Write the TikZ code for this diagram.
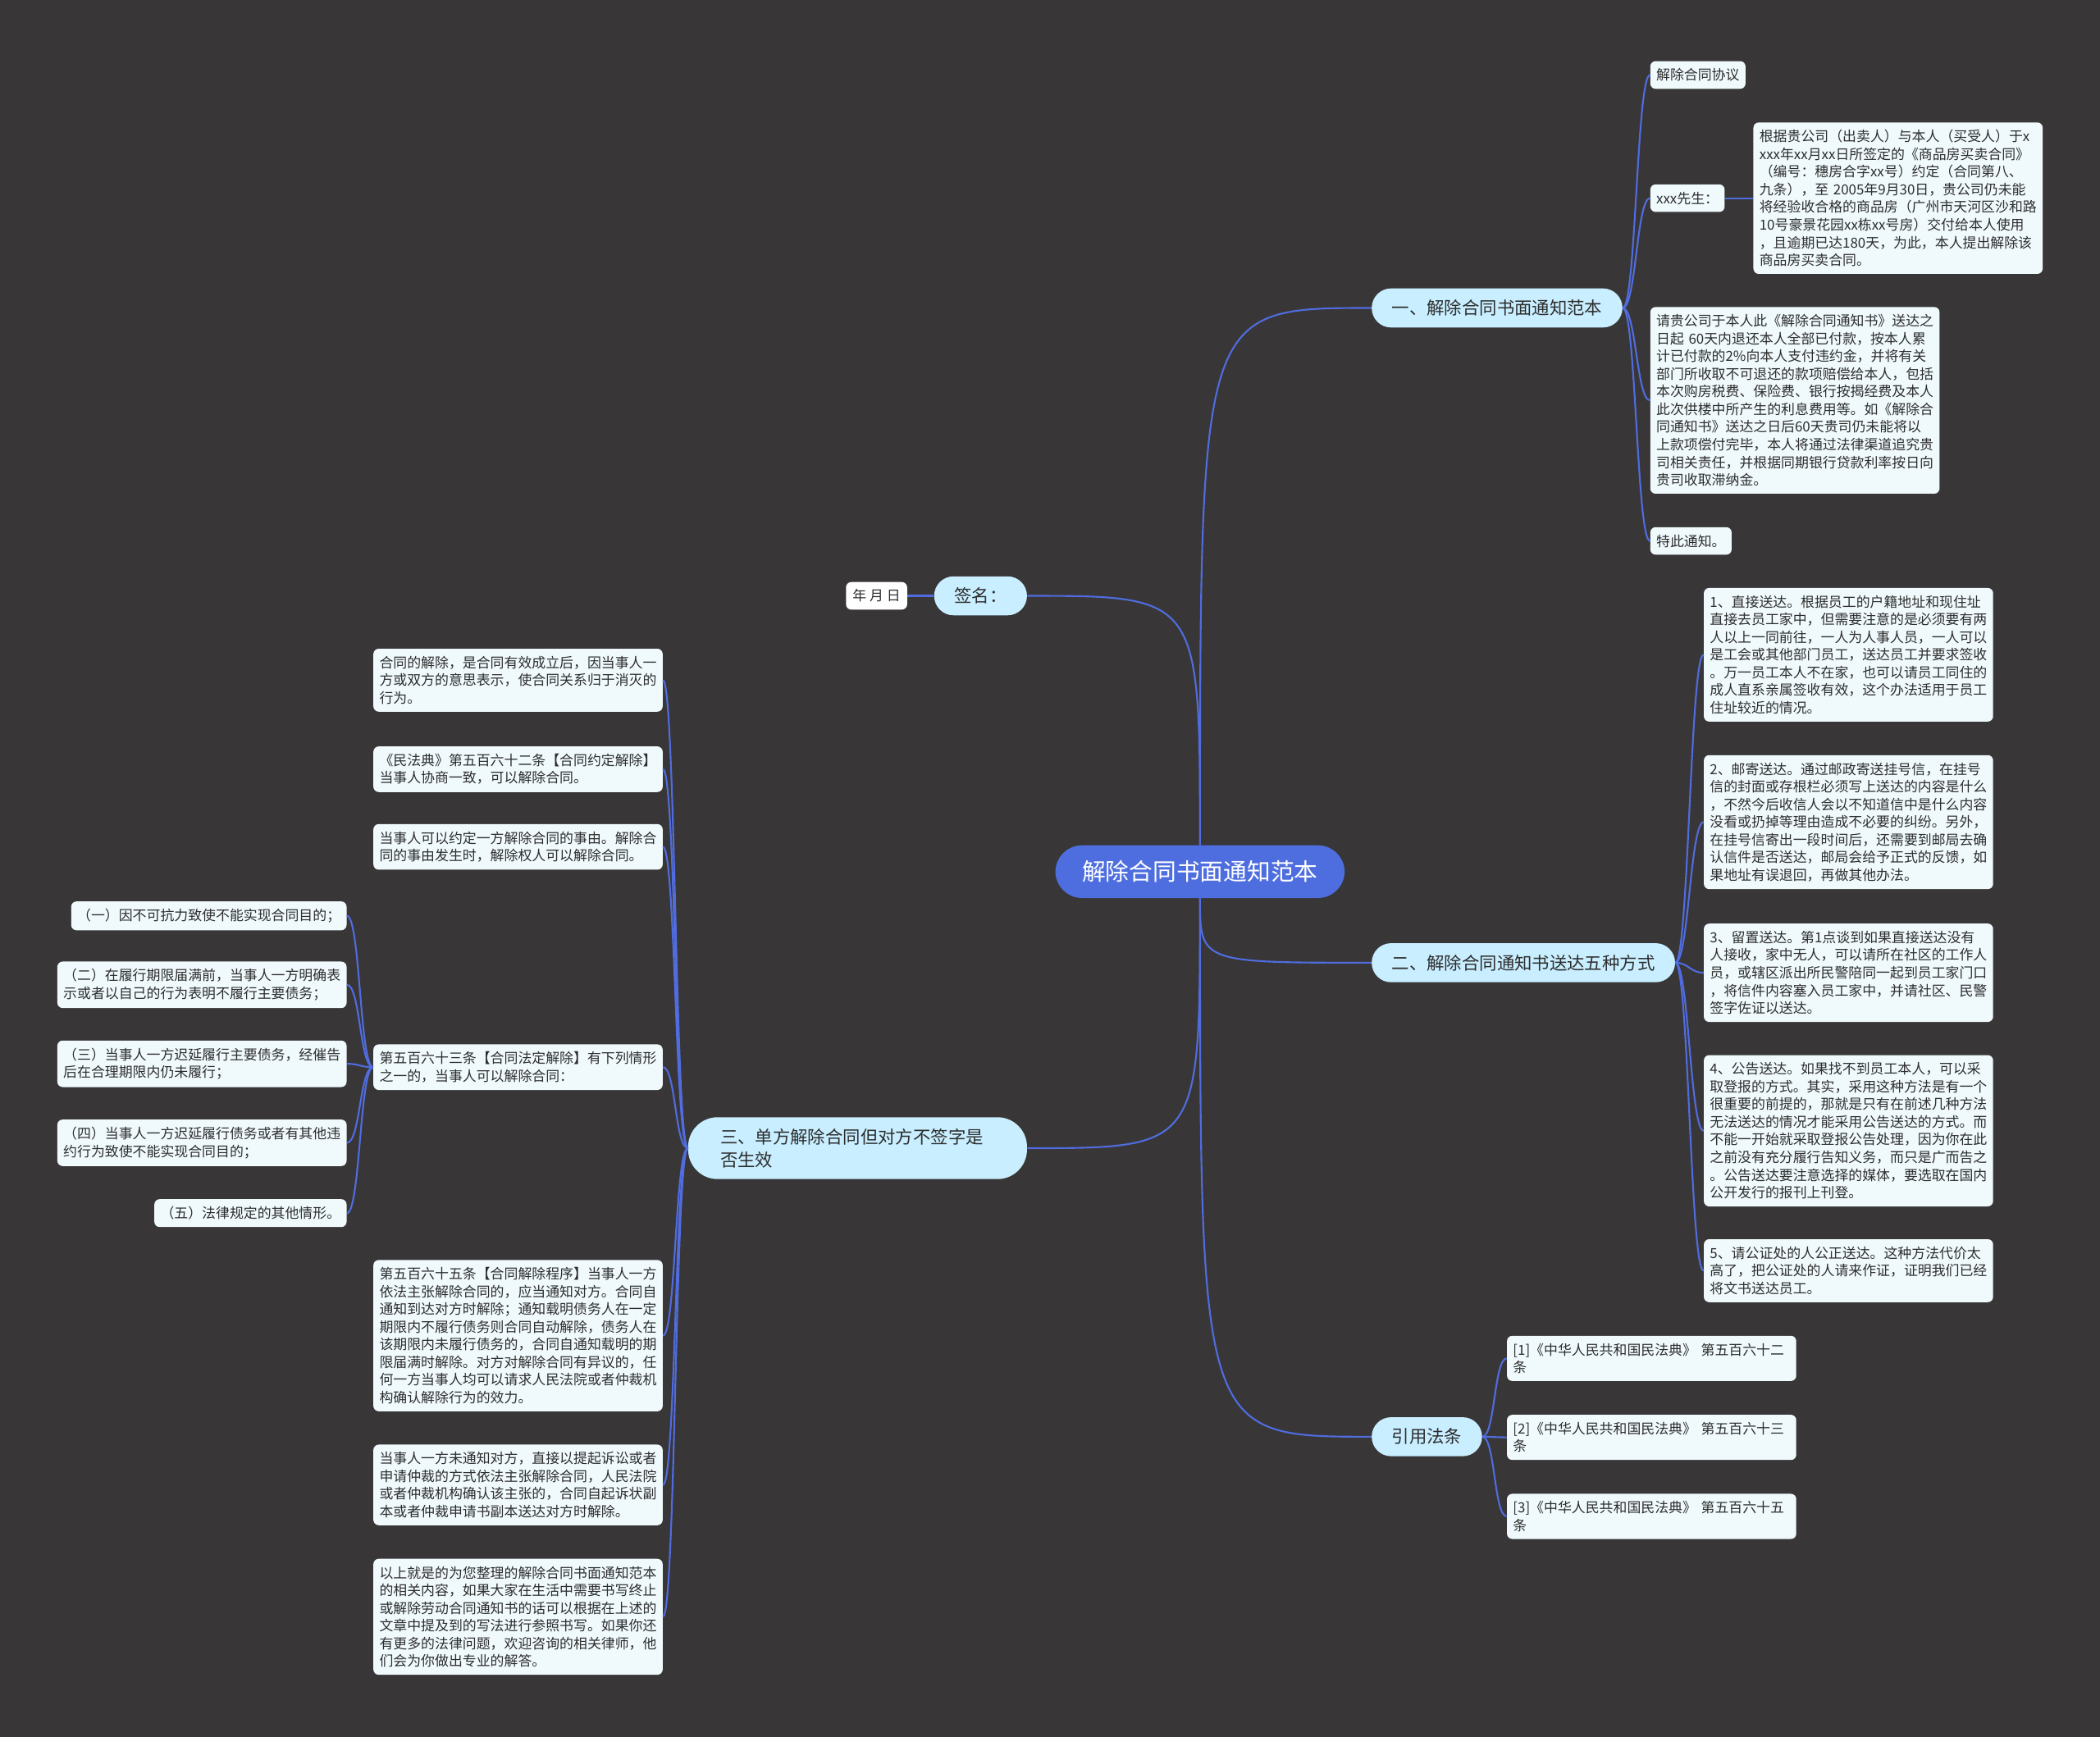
\documentclass[tikz,border=0pt]{standalone}
\usepackage{fontspec}
\setmainfont{Noto Sans CJK SC}
\definecolor{bgdark}{RGB}{56,54,55}
\definecolor{rootblue}{RGB}{78,110,224}
\definecolor{branchblue}{RGB}{200,238,255}
\definecolor{leafwhite}{RGB}{240,250,253}
\definecolor{inkgray}{RGB}{45,45,45}
\definecolor{linkblue}{RGB}{80,108,222}
\begin{document}
\begin{tikzpicture}[x=1pt,y=-1pt,
	link/.style={draw=linkblue,line width=1.3pt},
	spine/.style={to path={.. controls ([xshift=#1]\tikztostart) and ([xshift={-(#1)}]\tikztotarget) .. (\tikztotarget)}},
	rootbox/.style={fill=rootblue,text=white,rounded corners=20pt,inner xsep=20pt,inner ysep=11.5pt,font=\fontsize{17.6}{21}\selectfont},
	branch/.style={fill=branchblue,text=inkgray,rounded corners=14.5pt,inner xsep=15pt,inner ysep=8.5pt,font=\fontsize{13.1}{17}\selectfont,align=left},
	leaf/.style={fill=leafwhite,text=inkgray,rounded corners=4pt,inner xsep=4.5pt,inner ysep=5.5pt,font=\fontsize{10.35}{13.2}\selectfont,align=left},
	note/.style={leaf,text width=207pt}]
	\def\rx{1232}
	\def\sx{1272}
	\def\fx{1125}
	\def\lx{495}
	\def\kx{259}
	\fill[bgdark] (0,0) rectangle (1568,1297);
	\node[rootbox] (root) at (896,651) {解除合同书面通知范本};
	\node[branch,anchor=east] (sign) at (767,445) {签名：};
	\node[leaf,fill=white,inner xsep=5pt] (date) at (654.5,445) {年 月 日};
	\node[branch,anchor=west] (b1) at (1024,230) {一、解除合同书面通知范本};
	\node[branch,anchor=west] (b2) at (1024,719) {二、解除合同通知书送达五种方式};
	\node[branch,anchor=east,text width=205pt,inner xsep=24pt,rounded corners=22pt] (b3) at (767,857.5) {三、单方解除合同但对方不签字是\\否生效};
	\node[branch,anchor=west] (b4) at (1024,1073) {引用法条};
	\node[leaf,anchor=west] (agree) at (\rx,56) {解除合同协议};
	\node[leaf,anchor=west] (sir) at (\rx,148) {xxx先生：};
	\node[note,anchor=west] (fact) at (1309,148) {根据贵公司（出卖人）与本人（买受人）于x\\xxx年xx月xx日所签定的《商品房买卖合同》\\（编号：穗房合字xx号）约定（合同第八、\\九条），至 2005年9月30日，贵公司仍未能\\将经验收合格的商品房（广州市天河区沙和路\\10号豪景花园xx栋xx号房）交付给本人使用\\，且逾期已达180天，为此，本人提出解除该\\商品房买卖合同。};
	\node[note,anchor=west] (claim) at (\rx,299) {请贵公司于本人此《解除合同通知书》送达之\\日起 60天内退还本人全部已付款，按本人累\\计已付款的2\%向本人支付违约金，并将有关\\部门所收取不可退还的款项赔偿给本人，包括\\本次购房税费、保险费、银行按揭经费及本人\\此次供楼中所产生的利息费用等。如《解除合\\同通知书》送达之日后60天贵司仍未能将以\\上款项偿付完毕，本人将通过法律渠道追究贵\\司相关责任，并根据同期银行贷款利率按日向\\贵司收取滞纳金。};
	\node[leaf,anchor=west] (notice) at (\rx,404) {特此通知。};
	\node[note,anchor=west] (way1) at (\sx,489) {1、直接送达。根据员工的户籍地址和现住址\\直接去员工家中，但需要注意的是必须要有两\\人以上一同前往，一人为人事人员，一人可以\\是工会或其他部门员工，送达员工并要求签收\\。万一员工本人不在家，也可以请员工同住的\\成人直系亲属签收有效，这个办法适用于员工\\住址较近的情况。};
	\node[note,anchor=west] (way2) at (\sx,614) {2、邮寄送达。通过邮政寄送挂号信，在挂号\\信的封面或存根栏必须写上送达的内容是什么\\，不然今后收信人会以不知道信中是什么内容\\没看或扔掉等理由造成不必要的纠纷。另外，\\在挂号信寄出一段时间后，还需要到邮局去确\\认信件是否送达，邮局会给予正式的反馈，如\\果地址有误退回，再做其他办法。};
	\node[note,anchor=west] (way3) at (\sx,726.5) {3、留置送达。第1点谈到如果直接送达没有\\人接收，家中无人，可以请所在社区的工作人\\员，或辖区派出所民警陪同一起到员工家门口\\，将信件内容塞入员工家中，并请社区、民警\\签字佐证以送达。};
	\node[note,anchor=west] (way4) at (\sx,844.5) {4、公告送达。如果找不到员工本人，可以采\\取登报的方式。其实，采用这种方法是有一个\\很重要的前提的，那就是只有在前述几种方法\\无法送达的情况才能采用公告送达的方式。而\\不能一开始就采取登报公告处理，因为你在此\\之前没有充分履行告知义务，而只是广而告之\\。公告送达要注意选择的媒体，要选取在国内\\公开发行的报刊上刊登。};
	\node[note,anchor=west] (way5) at (\sx,949) {5、请公证处的人公正送达。这种方法代价太\\高了，把公证处的人请来作证，证明我们已经\\将文书送达员工。};
	\node[note,anchor=west] (law1) at (\fx,1014.5) {[1]《中华人民共和国民法典》 第五百六十二\\条};
	\node[note,anchor=west] (law2) at (\fx,1073.5) {[2]《中华人民共和国民法典》 第五百六十三\\条};
	\node[note,anchor=west] (law3) at (\fx,1132.5) {[3]《中华人民共和国民法典》 第五百六十五\\条};
	\node[note,anchor=east] (def) at (\lx,508) {合同的解除，是合同有效成立后，因当事人一\\方或双方的意思表示，使合同关系归于消灭的\\行为。};
	\node[note,anchor=east] (art562) at (\lx,574.5) {《民法典》第五百六十二条【合同约定解除】\\当事人协商一致，可以解除合同。};
	\node[note,anchor=east] (agreed) at (\lx,632.5) {当事人可以约定一方解除合同的事由。解除合\\同的事由发生时，解除权人可以解除合同。};
	\node[note,anchor=east] (art563) at (\lx,797) {第五百六十三条【合同法定解除】有下列情形\\之一的，当事人可以解除合同：};
	\node[note,anchor=east] (art565) at (\lx,997.5) {第五百六十五条【合同解除程序】当事人一方\\依法主张解除合同的，应当通知对方。合同自\\通知到达对方时解除；通知载明债务人在一定\\期限内不履行债务则合同自动解除，债务人在\\该期限内未履行债务的，合同自通知载明的期\\限届满时解除。对方对解除合同有异议的，任\\何一方当事人均可以请求人民法院或者仲裁机\\构确认解除行为的效力。};
	\node[note,anchor=east] (suit) at (\lx,1109) {当事人一方未通知对方，直接以提起诉讼或者\\申请仲裁的方式依法主张解除合同，人民法院\\或者仲裁机构确认该主张的，合同自起诉状副\\本或者仲裁申请书副本送达对方时解除。};
	\node[note,anchor=east] (outro) at (\lx,1207.5) {以上就是的为您整理的解除合同书面通知范本\\的相关内容，如果大家在生活中需要书写终止\\或解除劳动合同通知书的话可以根据在上述的\\文章中提及到的写法进行参照书写。如果你还\\有更多的法律问题，欢迎咨询的相关律师，他\\们会为你做出专业的解答。};
	\node[leaf,anchor=east] (case1) at (\kx,684) {（一）因不可抗力致使不能实现合同目的；};
	\node[leaf,anchor=east] (case2) at (\kx,735.5) {（二）在履行期限届满前，当事人一方明确表\\示或者以自己的行为表明不履行主要债务；};
	\node[leaf,anchor=east] (case3) at (\kx,794.5) {（三）当事人一方迟延履行主要债务，经催告\\后在合理期限内仍未履行；};
	\node[leaf,anchor=east] (case4) at (\kx,853.5) {（四）当事人一方迟延履行债务或者有其他违\\约行为致使不能实现合同目的；};
	\node[leaf,anchor=east] (case5) at (\kx,906) {（五）法律规定的其他情形。};
	\draw[link] (root.north) .. controls (root.north |- sign.east) .. (sign.east);
	\draw[link] (root.north) .. controls (root.north |- b1.west) .. (b1.west);
	\draw[link] (root.south) .. controls (root.south |- b2.west) .. (b2.west);
	\draw[link] (root.south) .. controls (root.south |- b3.east) .. (b3.east);
	\draw[link] (root.south) .. controls (root.south |- b4.west) .. (b4.west);
	\draw[link] (sign.west) -- (date.east);
	\foreach \n in {agree,sir,claim,notice}
		\draw[link] (b1.east) to[spine=10pt] (\n.west);
	\draw[link] (sir.east) to[spine=10pt] (fact.west);
	\foreach \n in {way1,way2,way3,way4,way5}
		\draw[link] (b2.east) to[spine=10pt] (\n.west);
	\foreach \n in {law1,law2,law3}
		\draw[link] (b4.east) to[spine=9.5pt] (\n.west);
	\foreach \n in {def,art562,agreed,art563,art565,suit,outro}
		\draw[link] (b3.west) to[spine=-9.5pt] (\n.east);
	\foreach \n in {case1,case2,case3,case4,case5}
		\draw[link] (art563.west) to[spine=-10pt] (\n.east);
\end{tikzpicture}
\end{document}
